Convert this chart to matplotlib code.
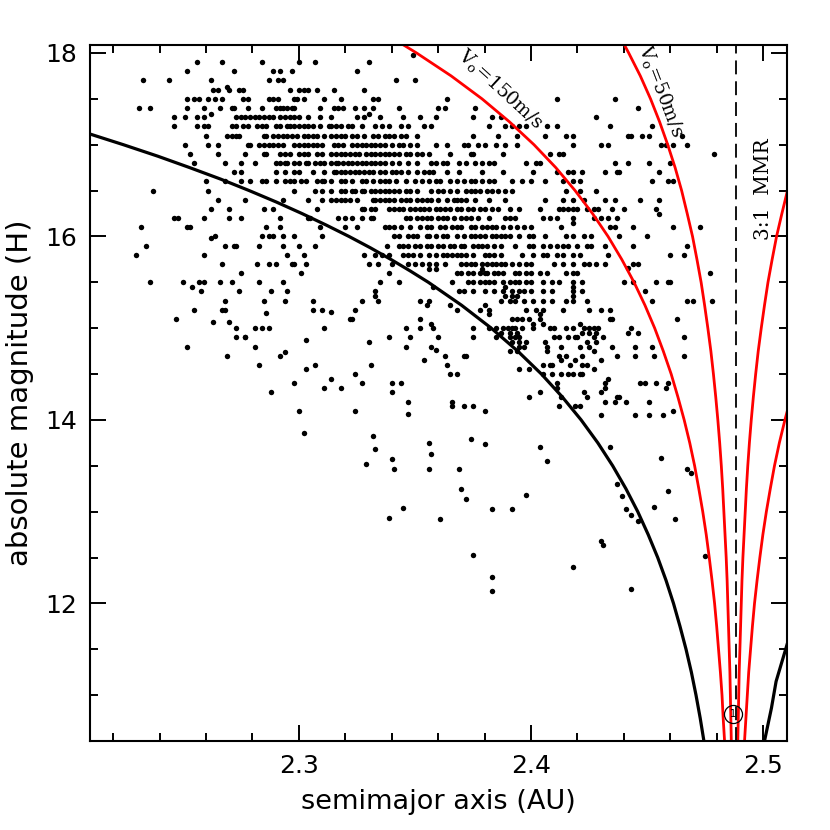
import matplotlib
matplotlib.use("Agg")
import matplotlib.pyplot as plt
from matplotlib.ticker import MultipleLocator, FixedLocator

# ---------------- data ----------------
# scatter: rows of (H, [semimajor axis values])
rows_upper_left = [
    (17.9, [2.256, 2.267, 2.284, 2.300, 2.307]),
    (17.8, [2.252, 2.272, 2.289, 2.292, 2.297]),
    (17.7, [2.233, 2.244, 2.262, 2.287, 2.291, 2.293]),
    (17.63, [2.269]),
    (17.6, [2.263, 2.265, 2.270, 2.274, 2.276, 2.296, 2.300, 2.302, 2.304, 2.308]),
    (17.5, [2.252, 2.255, 2.257, 2.261, 2.264, 2.267, 2.276, 2.278, 2.287, 2.289, 2.291, 2.298, 2.299, 2.302, 2.311]),
    (17.4, [2.231, 2.236, 2.252, 2.259, 2.266, 2.271, 2.272, 2.278, 2.284, 2.290, 2.292, 2.293, 2.295, 2.297, 2.298, 2.309]),
    (17.33, [2.262]),
    (17.3, [2.246, 2.251, 2.256, 2.259, 2.273, 2.275, 2.277, 2.279, 2.281, 2.283, 2.285, 2.287, 2.289, 2.292, 2.294, 2.296, 2.298, 2.300, 2.304, 2.309]),
    (17.2, [2.246, 2.256, 2.259, 2.261, 2.271, 2.273, 2.276, 2.278, 2.282, 2.284, 2.286, 2.290, 2.292, 2.295, 2.296, 2.298, 2.300, 2.302, 2.304, 2.306, 2.309, 2.313]),
    (17.1, [2.260, 2.269, 2.271, 2.273, 2.274, 2.285, 2.286, 2.289, 2.291, 2.293, 2.295, 2.297, 2.299, 2.302, 2.304, 2.306, 2.308, 2.311]),
    (17.0, [2.251, 2.261, 2.265, 2.278, 2.279, 2.283, 2.285, 2.287, 2.289, 2.291, 2.293, 2.298, 2.300, 2.302, 2.304, 2.306, 2.308, 2.310]),
    (16.9, [2.253, 2.265, 2.277, 2.285, 2.286, 2.292, 2.294, 2.296, 2.300, 2.302, 2.304, 2.308, 2.310]),
    (16.8, [2.255, 2.268, 2.275, 2.281, 2.290, 2.292, 2.294, 2.295, 2.298, 2.300, 2.303, 2.304, 2.307, 2.309, 2.311]),
    (16.7, [2.272, 2.275, 2.290, 2.294, 2.298, 2.300, 2.306, 2.311]),
    (16.6, [2.260, 2.268, 2.275, 2.279, 2.284, 2.286, 2.290, 2.294, 2.296, 2.298, 2.301, 2.303, 2.308, 2.310, 2.311]),
    (16.5, [2.237, 2.261, 2.298, 2.307, 2.310]),
    (16.4, [2.265, 2.277, 2.293, 2.304, 2.310]),
    (16.3, [2.262, 2.270, 2.285, 2.289, 2.308]),
    (16.2, [2.246, 2.248, 2.259, 2.270, 2.275, 2.292, 2.304, 2.305]),
    (16.1, [2.232, 2.252, 2.253, 2.286, 2.292, 2.309]),
]

rows_lower_left = [
    (16.0, [2.264, 2.284, 2.287, 2.289, 2.293, 2.298, 2.310]),
    (15.98, [2.262]),
    (15.9, [2.234, 2.268, 2.272, 2.273, 2.283, 2.293, 2.300, 2.307]),
    (15.8, [2.230, 2.259, 2.295, 2.302]),
    (15.7, [2.267, 2.282, 2.287, 2.290, 2.297, 2.298, 2.303]),
    (15.6, [2.275, 2.301]),
    (15.5, [2.236, 2.250, 2.257, 2.259, 2.266, 2.271, 2.283, 2.293]),
    (15.45, [2.254]),
    (15.4, [2.258, 2.274, 2.288, 2.295]),
    (15.3, [2.268, 2.285, 2.294, 2.306]),
    (15.2, [2.255, 2.267, 2.268, 2.306, 2.310]),
    (15.17, [2.286]),
    (15.1, [2.247]),
    (15.07, [2.263, 2.270]),
    (15.0, [2.273, 2.281, 2.284, 2.287, 2.311]),
    (14.9, [2.273, 2.277, 2.277]),
    (14.87, [2.303]),
    (14.8, [2.252, 2.281]),
    (14.74, [2.294]),
    (14.7, [2.269, 2.292]),
    (14.6, [2.283, 2.307]),
    (14.55, [2.303]),
    (14.4, [2.298]),
    (14.35, [2.311]),
    (14.3, [2.288]),
    (14.1, [2.300]),
]

rows_upper_mid = [
    (17.98, [2.349]),
    (17.9, [2.330]),
    (17.8, [2.325]),
    (17.7, [2.342, 2.350]),
    (17.6, [2.315, 2.328]),
    (17.5, [2.318, 2.332, 2.334, 2.364]),
    (17.4, [2.315, 2.317, 2.319, 2.324, 2.328, 2.332, 2.343, 2.360, 2.363, 2.376]),
    (17.33, [2.330]),
    (17.3, [2.314, 2.325, 2.328, 2.335, 2.345, 2.352, 2.359, 2.375, 2.383, 2.387]),
    (17.2, [2.314, 2.316, 2.318, 2.321, 2.323, 2.327, 2.333, 2.336, 2.339, 2.344, 2.347, 2.354, 2.357, 2.382, 2.389, 2.392, 2.395, 2.398]),
    (17.1, [2.314, 2.316, 2.318, 2.320, 2.323, 2.325, 2.328, 2.332, 2.334, 2.337, 2.339, 2.341, 2.344, 2.346, 2.351, 2.375, 2.386, 2.394]),
    (17.0, [2.315, 2.317, 2.319, 2.323, 2.325, 2.327, 2.329, 2.331, 2.333, 2.335, 2.337, 2.340, 2.343, 2.345, 2.348, 2.351, 2.359, 2.364, 2.371, 2.373, 2.377, 2.380, 2.385, 2.389, 2.394]),
    (16.9, [2.314, 2.316, 2.318, 2.320, 2.322, 2.324, 2.326, 2.329, 2.331, 2.333, 2.335, 2.337, 2.339, 2.341, 2.343, 2.346, 2.348, 2.351, 2.353, 2.356, 2.365, 2.374, 2.375, 2.388]),
    (16.8, [2.314, 2.316, 2.317, 2.319, 2.321, 2.323, 2.325, 2.327, 2.329, 2.331, 2.333, 2.335, 2.337, 2.340, 2.343, 2.347, 2.351, 2.357, 2.359, 2.362, 2.364, 2.369, 2.372, 2.376, 2.379, 2.382, 2.384, 2.398, 2.402]),
    (16.7, [2.315, 2.316, 2.318, 2.320, 2.322, 2.324, 2.326, 2.328, 2.330, 2.332, 2.335, 2.337, 2.340, 2.342, 2.344, 2.347, 2.351, 2.354, 2.356, 2.358, 2.364, 2.369, 2.379, 2.388, 2.401]),
    (16.6, [2.314, 2.318, 2.320, 2.323, 2.327, 2.329, 2.332, 2.335, 2.337, 2.339, 2.342, 2.346, 2.350, 2.353, 2.356, 2.359, 2.361, 2.365, 2.368, 2.371, 2.374, 2.376, 2.379, 2.382, 2.384, 2.392, 2.396, 2.400]),
    (16.5, [2.314, 2.318, 2.320, 2.323, 2.324, 2.327, 2.328, 2.331, 2.333, 2.335, 2.337, 2.339, 2.341, 2.343, 2.346, 2.348, 2.351, 2.357, 2.360, 2.362, 2.365, 2.368, 2.372, 2.374, 2.376, 2.378, 2.381, 2.383, 2.386, 2.389, 2.392]),
    (16.4, [2.314, 2.316, 2.318, 2.320, 2.322, 2.325, 2.332, 2.333, 2.335, 2.337, 2.339, 2.341, 2.344, 2.346, 2.348, 2.351, 2.353, 2.355, 2.357, 2.360, 2.364, 2.367, 2.368, 2.370, 2.372, 2.376, 2.382, 2.389]),
    (16.3, [2.327, 2.328, 2.331, 2.333, 2.339, 2.341, 2.343, 2.345, 2.348, 2.350, 2.352, 2.354, 2.356, 2.359, 2.361, 2.363, 2.365, 2.368, 2.370, 2.373, 2.375, 2.378, 2.380, 2.383, 2.386, 2.391, 2.395]),
    (16.2, [2.317, 2.320, 2.323, 2.327, 2.331, 2.332, 2.346, 2.348, 2.351, 2.353, 2.355, 2.357, 2.360, 2.362, 2.364, 2.367, 2.370, 2.372, 2.374, 2.377, 2.382, 2.389, 2.391, 2.393]),
    (16.1, [2.320, 2.325, 2.337, 2.339, 2.341, 2.344, 2.348, 2.352, 2.355, 2.357, 2.361, 2.363, 2.366, 2.368, 2.370, 2.374, 2.376, 2.379, 2.381, 2.383, 2.385, 2.388, 2.391, 2.394, 2.397, 2.400]),
]

rows_lower_mid = [
    (16.0, [2.341, 2.343, 2.347, 2.349, 2.351, 2.355, 2.356, 2.359, 2.362, 2.364, 2.368, 2.371, 2.374, 2.376, 2.378, 2.380, 2.383, 2.385, 2.387, 2.389, 2.391, 2.395, 2.399, 2.401]),
    (15.9, [2.338, 2.343, 2.345, 2.347, 2.350, 2.352, 2.355, 2.357, 2.360, 2.362, 2.365, 2.367, 2.370, 2.371, 2.375, 2.377, 2.379, 2.381, 2.384, 2.387, 2.393, 2.399, 2.401]),
    (15.8, [2.328, 2.333, 2.336, 2.339, 2.345, 2.347, 2.349, 2.352, 2.356, 2.359, 2.362, 2.364, 2.366, 2.368, 2.370, 2.372, 2.375, 2.380, 2.382, 2.384, 2.387, 2.396, 2.401]),
    (15.7, [2.330, 2.334, 2.340, 2.347, 2.350, 2.353, 2.356, 2.359, 2.363, 2.370, 2.372, 2.374, 2.376, 2.379, 2.381, 2.383, 2.385, 2.387, 2.389, 2.392, 2.395, 2.398, 2.400]),
    (15.64, [2.356, 2.359, 2.379]),
    (15.6, [2.339, 2.368, 2.370, 2.373, 2.375, 2.378, 2.380, 2.381, 2.384, 2.386, 2.388, 2.393, 2.395, 2.398, 2.400]),
    (15.5, [2.335, 2.343, 2.366, 2.373, 2.375, 2.378, 2.380, 2.382, 2.384, 2.388, 2.391, 2.393, 2.395, 2.398, 2.400]),
    (15.45, [2.358, 2.389]),
    (15.4, [2.333, 2.369, 2.371, 2.375, 2.380, 2.384, 2.388, 2.392, 2.395, 2.397, 2.400]),
    (15.35, [2.333, 2.389, 2.392, 2.394]),
    (15.3, [2.327, 2.334, 2.352, 2.356, 2.387, 2.391, 2.393, 2.397, 2.401]),
    (15.25, [2.355, 2.365, 2.380]),
    (15.2, [2.324, 2.368, 2.378, 2.382, 2.398, 2.402]),
    (15.18, [2.314]),
    (15.15, [2.382]),
    (15.1, [2.322, 2.323, 2.352, 2.392, 2.394, 2.396, 2.399]),
    (15.05, [2.357, 2.401]),
    (15.0, [2.346, 2.352, 2.358, 2.375, 2.382, 2.385, 2.388, 2.390, 2.392, 2.393, 2.396, 2.401]),
    (14.95, [2.387, 2.391, 2.394]),
    (14.9, [2.339, 2.348, 2.360, 2.375, 2.385, 2.391, 2.393, 2.395]),
    (14.85, [2.330, 2.392, 2.395, 2.398]),
    (14.8, [2.346, 2.357, 2.395, 2.397]),
    (14.76, [2.359]),
    (14.75, [2.391, 2.394]),
    (14.7, [2.363, 2.371, 2.372]),
    (14.65, [2.354]),
    (14.6, [2.364, 2.331]),
    (14.55, [2.395, 2.399]),
    (14.5, [2.324, 2.365, 2.368]),
    (14.45, [2.314]),
    (14.4, [2.327, 2.340, 2.344]),
    (14.35, [2.318]),
    (14.3, [2.340]),
    (14.25, [2.399]),
    (14.2, [2.347, 2.366]),
    (14.15, [2.366, 2.371, 2.375]),
    (14.1, [2.324, 2.380]),
    (14.06, [2.347]),
]

rows_upper_right = [
    (17.5, [2.411, 2.436]),
    (17.4, [2.446]),
    (17.3, [2.428]),
    (17.2, [2.407, 2.411, 2.434, 2.452]),
    (17.1, [2.406, 2.415, 2.418, 2.442, 2.443, 2.448, 2.451, 2.465]),
    (17.0, [2.418, 2.430, 2.433, 2.456, 2.458, 2.461, 2.467]),
    (16.9, [2.408, 2.412, 2.414, 2.479]),
    (16.8, [2.404, 2.436, 2.442, 2.451, 2.460]),
    (16.7, [2.411, 2.416, 2.418, 2.422, 2.432, 2.437, 2.438, 2.455]),
    (16.6, [2.406, 2.414, 2.418, 2.421, 2.452, 2.459, 2.461]),
    (16.5, [2.415, 2.421, 2.428]),
    (16.4, [2.406, 2.414, 2.418, 2.423, 2.432, 2.436, 2.447, 2.455]),
    (16.3, [2.404, 2.412, 2.414, 2.416, 2.418, 2.420, 2.424, 2.427, 2.429, 2.435, 2.440, 2.454]),
    (16.25, [2.455]),
    (16.2, [2.405, 2.408, 2.411, 2.418, 2.427, 2.430, 2.433, 2.437]),
    (16.15, [2.418]),
    (16.1, [2.413, 2.434, 2.436, 2.444, 2.461, 2.473]),
]

rows_lower_right = [
    (16.0, [2.406, 2.415, 2.418, 2.423, 2.426, 2.438, 2.450]),
    (15.9, [2.405, 2.408, 2.411, 2.414, 2.416, 2.420, 2.424, 2.426, 2.432, 2.444, 2.467]),
    (15.8, [2.405, 2.407, 2.411, 2.414, 2.418, 2.421, 2.433, 2.460, 2.466]),
    (15.7, [2.410, 2.414, 2.418, 2.423, 2.425, 2.428, 2.432, 2.444, 2.446]),
    (15.66, [2.442]),
    (15.6, [2.404, 2.407, 2.415, 2.418, 2.420, 2.477]),
    (15.5, [2.405, 2.409, 2.412, 2.418, 2.422, 2.440, 2.444, 2.454, 2.459, 2.460]),
    (15.45, [2.418]),
    (15.4, [2.405, 2.409, 2.418, 2.422, 2.449]),
    (15.35, [2.418]),
    (15.3, [2.405, 2.409, 2.415, 2.418, 2.424, 2.452, 2.467, 2.470, 2.478]),
    (15.2, [2.405, 2.414, 2.425, 2.430, 2.434]),
    (15.15, [2.404]),
    (15.1, [2.404, 2.434, 2.435, 2.463]),
    (15.05, [2.405, 2.421]),
    (15.0, [2.408, 2.410, 2.415, 2.418, 2.423, 2.425, 2.427, 2.429, 2.443]),
    (14.95, [2.422, 2.425, 2.428, 2.442, 2.446]),
    (14.9, [2.410, 2.412, 2.416, 2.419, 2.420, 2.427, 2.431, 2.466]),
    (14.85, [2.406, 2.424, 2.428]),
    (14.8, [2.407, 2.413, 2.421, 2.425, 2.435, 2.445, 2.452]),
    (14.75, [2.407, 2.427]),
    (14.7, [2.412, 2.415, 2.422, 2.437, 2.445, 2.453, 2.466]),
    (14.65, [2.413, 2.419, 2.430]),
    (14.6, [2.405, 2.408, 2.409, 2.417, 2.422, 2.424]),
    (14.55, [2.427]),
    (14.5, [2.405, 2.409, 2.413, 2.416, 2.418, 2.421, 2.422]),
    (14.45, [2.433]),
    (14.4, [2.411, 2.432, 2.447, 2.449, 2.454, 2.459]),
    (14.35, [2.411, 2.432, 2.458]),
    (14.3, [2.404, 2.423, 2.430]),
    (14.25, [2.413, 2.424, 2.437, 2.438]),
    (14.2, [2.432, 2.436, 2.441, 2.451]),
    (14.15, [2.412, 2.419, 2.421]),
    (14.1, [2.461]),
    (14.05, [2.430, 2.445, 2.451, 2.457]),
]

# sparse bright objects (H < 14)
faint_a = [2.302, 2.329, 2.340, 2.341, 2.333, 2.356, 2.357, 2.356, 2.339, 2.345,
           2.361, 2.374, 2.380, 2.369, 2.370, 2.372, 2.375, 2.383, 2.383, 2.383,
           2.392, 2.398, 2.404, 2.407, 2.418, 2.443, 2.434, 2.332,
           2.437, 2.439, 2.441, 2.443, 2.446, 2.453, 2.456, 2.459, 2.467, 2.469,
           2.462, 2.475, 2.430, 2.431]
faint_H = [13.86, 13.52, 13.57, 13.47, 13.68, 13.75, 13.63, 13.47, 12.93, 13.04,
           12.92, 13.79, 13.74, 13.46, 13.25, 13.14, 12.53, 12.29, 12.13, 13.03,
           13.03, 13.18, 13.71, 13.55, 12.40, 12.16, 13.71, 13.83,
           13.30, 13.17, 13.03, 12.96, 12.90, 13.05, 13.58, 13.23, 13.47, 13.42,
           12.92, 12.52, 12.68, 12.64]

# model curves
black_left_a = [2.2108, 2.2244, 2.2392, 2.2530, 2.2663, 2.2786, 2.2903, 2.3013,
                2.3117, 2.3216, 2.3309, 2.3396, 2.3479, 2.3558, 2.3701, 2.3829,
                2.3943, 2.4045, 2.4135, 2.4216, 2.4288, 2.4352, 2.4409, 2.4460,
                2.4505, 2.4546, 2.4582, 2.4614, 2.4642, 2.4668, 2.4691, 2.4711,
                2.4729, 2.4745]
black_left_H = [17.11, 17.0, 16.875, 16.75, 16.625, 16.5, 16.375, 16.25,
                16.125, 16.0, 15.875, 15.75, 15.625, 15.5, 15.25, 15.0,
                14.75, 14.5, 14.25, 14.0, 13.75, 13.5, 13.25, 13.0,
                12.75, 12.5, 12.25, 12.0, 11.75, 11.5, 11.25, 11.0,
                10.75, 10.5]
black_right_a = [2.5006, 2.5036, 2.5056, 2.5103]
black_right_H = [10.5, 10.86, 11.15, 11.55]

red150_left_a = [2.3449, 2.3507, 2.3656, 2.3789, 2.3907, 2.4013, 2.4107, 2.4190,
                 2.4265, 2.4332, 2.4391, 2.4444, 2.4491, 2.4533, 2.4570, 2.4604,
                 2.4633, 2.4660, 2.4684, 2.4705, 2.4723, 2.4740, 2.4755, 2.4768,
                 2.4780, 2.4791, 2.4800, 2.4808, 2.4816, 2.4823, 2.4828, 2.4834]
red150_left_H = [18.09, 18.0, 17.75, 17.5, 17.25, 17.0, 16.75, 16.5,
                 16.25, 16.0, 15.75, 15.5, 15.25, 15.0, 14.75, 14.5,
                 14.25, 14.0, 13.75, 13.5, 13.25, 13.0, 12.75, 12.5,
                 12.25, 12.0, 11.75, 11.5, 11.25, 11.0, 10.75, 10.5]
red150_right_a = [2.4920, 2.4926, 2.4932, 2.4938, 2.4946, 2.4954, 2.4963, 2.4974,
                  2.4986, 2.4999, 2.5014, 2.5031, 2.5049, 2.5070, 2.5094, 2.5115]
red150_right_H = [10.5, 10.75, 11.0, 11.25, 11.5, 11.75, 12.0, 12.25,
                  12.5, 12.75, 13.0, 13.25, 13.5, 13.75, 14.0, 14.2]

red50_left_a = [2.4402, 2.4421, 2.4471, 2.4515, 2.4554, 2.4589, 2.4621, 2.4649,
                2.4673, 2.4696, 2.4715, 2.4733, 2.4748, 2.4762, 2.4775, 2.4786,
                2.4796, 2.4805, 2.4813, 2.4820, 2.4826, 2.4831, 2.4836, 2.4841,
                2.4845, 2.4848, 2.4851, 2.4854, 2.4857, 2.4859, 2.4861, 2.4863]
red50_left_H = [18.09, 18.0, 17.75, 17.5, 17.25, 17.0, 16.75, 16.5,
                16.25, 16.0, 15.75, 15.5, 15.25, 15.0, 14.75, 14.5,
                14.25, 14.0, 13.75, 13.5, 13.25, 13.0, 12.75, 12.5,
                12.25, 12.0, 11.75, 11.5, 11.25, 11.0, 10.75, 10.5]
red50_right_a = [2.4891, 2.4893, 2.4895, 2.4897, 2.4900, 2.4903, 2.4906, 2.4909,
                 2.4913, 2.4918, 2.4923, 2.4928, 2.4934, 2.4941, 2.4949, 2.4958,
                 2.4968, 2.4979, 2.4992, 2.5006, 2.5021, 2.5039, 2.5058, 2.5081,
                 2.5105, 2.5116]
red50_right_H = [10.5, 10.75, 11.0, 11.25, 11.5, 11.75, 12.0, 12.25,
                 12.5, 12.75, 13.0, 13.25, 13.5, 13.75, 14.0, 14.25,
                 14.5, 14.75, 15.0, 15.25, 15.5, 15.75, 16.0, 16.25,
                 16.5, 16.6]

mmr_a = 2.4883
marker_a, marker_H = 2.4871, 10.80

x_ticks = [2.3, 2.4, 2.5]
x_ticklabels = ["2.3", "2.4", "2.5"]
y_ticks = [12, 14, 16, 18]
y_ticklabels = ["12", "14", "16", "18"]

# ---------------- plot ----------------
plt.rcParams["lines.scale_dashes"] = False
fig = plt.figure(figsize=(8.3, 8.3), dpi=100)
ax = fig.add_axes([0.1084, 0.1072, 0.8398, 0.8386])

for group in (rows_upper_left, rows_lower_left, rows_upper_mid, rows_lower_mid,
              rows_upper_right, rows_lower_right):
    for H, avals in group:
        ax.plot(avals, [H] * len(avals), "o", ms=3.9, color="black", mec="none")
ax.plot(faint_a, faint_H, "o", ms=3.9, color="black", mec="none")

ax.plot(black_left_a, black_left_H, color="black", lw=2.3, solid_joinstyle="round")
ax.plot(black_right_a, black_right_H, color="black", lw=2.3, solid_joinstyle="round")
for xa, yh in ((red150_left_a, red150_left_H), (red150_right_a, red150_right_H),
               (red50_left_a, red50_left_H), (red50_right_a, red50_right_H)):
    ax.plot(xa, yh, color="#ff0000", lw=2.0, solid_joinstyle="round")

ax.axvline(mmr_a, color="black", lw=1.3, dashes=(10, 5))
ax.plot([marker_a], [marker_H], "o", ms=13, mfc="none", mec="black", mew=0.9)
ax.text(marker_a, marker_H, "1", fontsize=7, ha="center", va="center")

serif = ["DejaVu Serif"]
ax.text(2.3866, 17.60, r"V$_{\mathregular{o}}$=150m/s", rotation=-42.5, fontsize=13.5,
        family=serif, ha="center", va="center")
ax.text(2.4556, 17.58, r"V$_{\mathregular{o}}$=50m/s", rotation=-69, fontsize=13.5,
        family=serif, ha="center", va="center")
ax.text(2.5000, 16.52, "3:1  MMR", rotation=90, fontsize=14.5, family=serif,
        ha="center", va="center")

ax.set_xlim(2.21, 2.5103)
ax.set_ylim(10.5, 18.087)
ax.xaxis.set_major_locator(FixedLocator(x_ticks))
ax.set_xticklabels(x_ticklabels)
ax.yaxis.set_major_locator(FixedLocator(y_ticks))
ax.set_yticklabels(y_ticklabels)
ax.xaxis.set_minor_locator(MultipleLocator(0.02))
ax.yaxis.set_minor_locator(MultipleLocator(0.5))
ax.tick_params(which="both", direction="in", top=True, right=True, width=1.4)
ax.tick_params(which="major", length=11.5, labelsize=18, pad=9)
ax.tick_params(which="minor", length=5.8)
for lab in ax.get_xticklabels() + ax.get_yticklabels():
    lab.set_family("DejaVu Sans")
for s in ax.spines.values():
    s.set_linewidth(1.5)

ax.set_xlabel("semimajor axis (AU)", fontsize=19.5, labelpad=8)
ax.set_ylabel("absolute magnitude (H)", fontsize=21, labelpad=8)

fig.savefig("out.png", dpi=100)
